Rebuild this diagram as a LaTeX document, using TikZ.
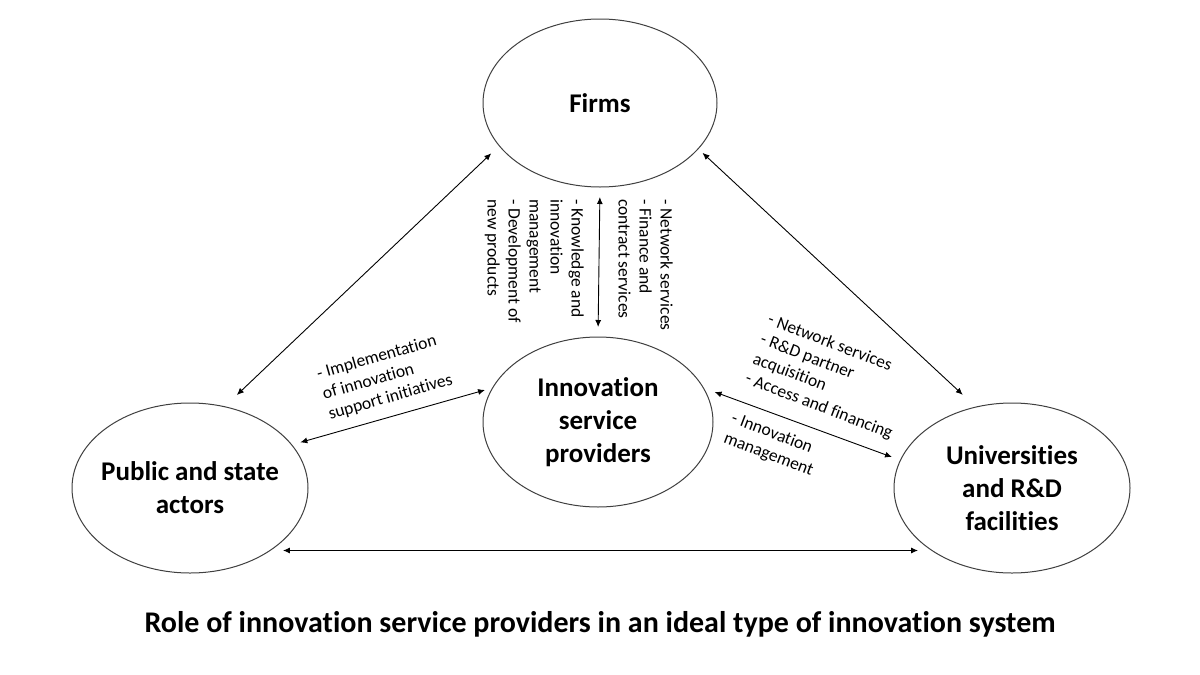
\documentclass[tikz,border=0pt]{standalone}
\usepackage{fontspec}
\setmainfont{Carlito}[Ligatures=NoCommon]
\usetikzlibrary{shapes.geometric,arrows.meta}
\begin{document}
\begin{tikzpicture}[x=1pt,y=-1pt,
  actor/.style={ellipse,draw=black!75,line width=1pt,inner sep=0pt,inner xsep=-20pt,outer sep=0pt,
    minimum width=236pt,minimum height=170pt,align=center,
    font=\bfseries\fontsize{27}{33}\selectfont},
  conn/.style={{Latex[length=7pt,width=6pt]}-{Latex[length=7pt,width=6pt]},line width=0.9pt},
  lbl/.style={inner sep=0pt,align=left,font=\fontsize{17.5}{21}\selectfont}]
\fill[white] (0,0) rectangle (1200,675);
\useasboundingbox (0,0) rectangle (1200,675);

\node[actor,minimum width=234pt,minimum height=168pt] (firms) at (600,103) {Firms};
\node[actor,minimum width=230pt] (isp) at (598,422) {Innovation\\service\\providers};
\node[actor] (pub) at (190,488) {Public and state\\actors};
\node[actor] (uni) at (1012,488) {Universities\\and R\&D\\facilities};

\draw[conn,shorten <=11pt,shorten >=17pt] (firms.203) -- (pub.67);
\draw[conn,shorten <=6pt,shorten >=18pt] (firms.335) -- (uni.114);
\draw[conn,shorten <=10pt,shorten >=10pt] (firms.south) -- (isp.north);
\draw[conn,shorten <=9pt,shorten >=8pt] (pub.23) -- (isp.162);
\draw[conn,shorten <=12pt,shorten >=9pt] (isp.18) -- (uni.166);
\draw[conn,shorten <=13pt,shorten >=14pt] (pub.322) -- (uni.218);

\node[lbl,rotate=-90,anchor=north west] (lblfr) at (673,199) {- Network services\\- Finance and\\contract services};
\node[lbl,rotate=-90,anchor=north west] (lblfl) at (584,199) {- Knowledge and\\innovation\\management\\- Development of\\new products};
\node[lbl,rotate=16,anchor=west] (lblpi) at (323,395) {- Implementation\\of innovation\\support initiatives};
\node[lbl,rotate=-21,anchor=west] (lbliu) at (757,349) {- Network services\\- R\&D partner\\acquisition\\- Access and financing};
\node[lbl,rotate=-21,anchor=west] (lbliu2) at (728,428) {- Innovation\\management};

\node[anchor=base,inner sep=0pt,font=\bfseries\fontsize{30}{36}\selectfont] (title) at (600,632) {Role of innovation service providers in an ideal type of innovation system};
\end{tikzpicture}
\end{document}
